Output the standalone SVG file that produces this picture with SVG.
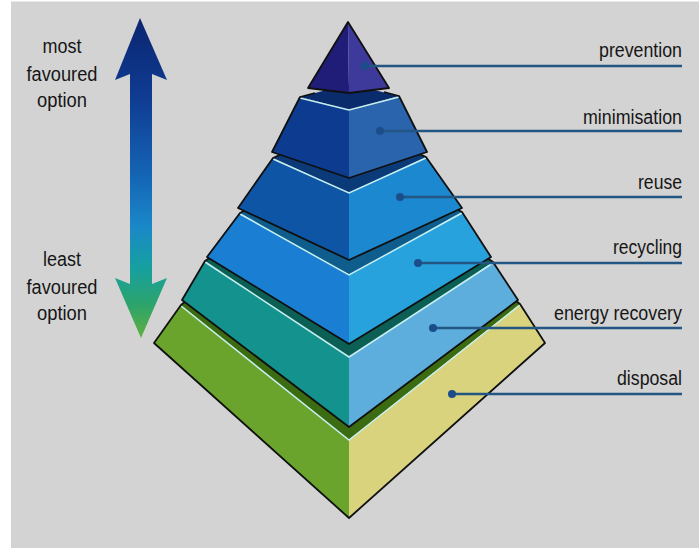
<svg xmlns="http://www.w3.org/2000/svg" width="699" height="548" viewBox="0 0 699 548">
<defs>
<linearGradient id="arrowGrad" x1="0" y1="18" x2="0" y2="338" gradientUnits="userSpaceOnUse">
<stop offset="0" stop-color="#0b2570"/>
<stop offset="0.25" stop-color="#0f3c92"/>
<stop offset="0.5" stop-color="#1566b6"/>
<stop offset="0.65" stop-color="#1a88c8"/>
<stop offset="0.78" stop-color="#16a0a0"/>
<stop offset="0.9" stop-color="#2ea46a"/>
<stop offset="1" stop-color="#62b040"/>
</linearGradient>
<style>
.lbl{font-family:"Liberation Sans",Arial,sans-serif;font-size:20px;fill:#161616;}
.lt{text-anchor:middle;}
.rt{text-anchor:end;}
.edge{fill:none;stroke:#101010;stroke-width:1.8;stroke-linejoin:round;}
.hl{fill:none;stroke:#c6eef0;stroke-width:1.5;}
.con{stroke:#235683;stroke-width:2.5;fill:none;}
.dot{fill:#1b4d8a;}
</style>
</defs>
<rect x="0" y="0" width="699" height="548" fill="#d3d3d3"/>
<rect x="0" y="0" width="11" height="548" fill="#ffffff"/>
<rect x="0" y="0" width="699" height="1.5" fill="#ffffff"/>

<g id="scale-arrow">
<polygon points="140,18 167,80 152,74 152,284 167,278 141,338 115,278 130,284 130,74 115,80" fill="url(#arrowGrad)"/>
<text class="lbl lt" x="62" y="53" textLength="39" lengthAdjust="spacingAndGlyphs">most</text>
<text class="lbl lt" x="62" y="81" textLength="71" lengthAdjust="spacingAndGlyphs">favoured</text>
<text class="lbl lt" x="62" y="107" textLength="50" lengthAdjust="spacingAndGlyphs">option</text>
<text class="lbl lt" x="62" y="266" textLength="38" lengthAdjust="spacingAndGlyphs">least</text>
<text class="lbl lt" x="62" y="294" textLength="71" lengthAdjust="spacingAndGlyphs">favoured</text>
<text class="lbl lt" x="62" y="320" textLength="50" lengthAdjust="spacingAndGlyphs">option</text>
</g>

<g id="disposal">
<polygon points="181,305 349,170 520,304 349,440" fill="#3c6c12"/>
<polygon points="181,305 349,440 349,518 154,343" fill="#6aa42c"/>
<polygon points="349,440 520,304 545,343 349,518" fill="#d8d37c"/>
<polyline class="hl" points="181,306 349,440 520,305"/>
<path class="edge" d="M205,286 L181,305 L154,343 L349,518 L545,343 L520,304 L496,285"/>
<text class="lbl rt" x="682" y="385" textLength="65" lengthAdjust="spacingAndGlyphs">disposal</text>
</g>

<g id="energy-recovery">
<polygon points="205,261 349,165 493,262 349,357" fill="#0b5f55"/>
<polygon points="205,261 349,357 349,427 182,300" fill="#14928e"/>
<polygon points="349,357 493,262 518,300 349,427" fill="#5daedc"/>
<polyline class="hl" points="205,262 349,357 493,263"/>
<path class="edge" d="M230,244 L205,261 L182,300 L349,427 L518,300 L493,262 L468,245"/>
<text class="lbl rt" x="682" y="320" textLength="128" lengthAdjust="spacingAndGlyphs">energy recovery</text>
</g>

<g id="recycling">
<polygon points="240,213 349,151 462,212 349,275" fill="#0e5d8d"/>
<polygon points="240,213 349,275 349,344 207,257" fill="#1a7fd2"/>
<polygon points="349,275 462,212 491,257 349,344" fill="#27a2dd"/>
<polyline class="hl" points="240,214 349,275 462,213"/>
<path class="edge" d="M262,201 L240,213 L207,257 L349,344 L491,257 L462,212 L440,200"/>
<text class="lbl rt" x="682" y="254" textLength="69" lengthAdjust="spacingAndGlyphs">recycling</text>
</g>

<g id="reuse">
<polygon points="273,158 349,123 426,157 349,193" fill="#0a3a78"/>
<polygon points="273,158 349,193 349,260 238,208" fill="#0e55a5"/>
<polygon points="349,193 426,157 462,208 349,260" fill="#1c88cf"/>
<polyline class="hl" points="273,159 349,193 426,158"/>
<path class="edge" d="M290,150 L273,158 L238,208 L349,260 L462,208 L426,157 L409,149"/>
<text class="lbl rt" x="682" y="189" textLength="44" lengthAdjust="spacingAndGlyphs">reuse</text>
</g>

<g id="minimisation">
<polygon points="300,97 349,84 399,96 349,110" fill="#0b2c6c"/>
<polygon points="300,97 349,110 349,178 272,152" fill="#0c3b8f"/>
<polygon points="349,110 399,96 427,152 349,178" fill="#2a64ad"/>
<polyline class="hl" points="300,98 349,110 399,97"/>
<path class="edge" d="M315,93 L300,97 L272,152 L349,178 L427,152 L399,96 L384,92"/>
<text class="lbl rt" x="682" y="124" textLength="99" lengthAdjust="spacingAndGlyphs">minimisation</text>
</g>

<g id="prevention">
<polygon points="348,22 308,88 349,93" fill="#201d78"/>
<polygon points="348,22 349,93 389,88" fill="#3d3a9c"/>
<path class="edge" d="M348,22 L308,88 L349,93 L389,88 Z"/>
<text class="lbl rt" x="682" y="57" textLength="83" lengthAdjust="spacingAndGlyphs">prevention</text>
</g>

<g id="connectors">
<line class="con" x1="365" y1="66" x2="682" y2="66"/>
<circle class="dot" cx="365" cy="66" r="4"/>
<line class="con" x1="380" y1="131" x2="682" y2="131"/>
<circle class="dot" cx="380" cy="131" r="4"/>
<line class="con" x1="400" y1="197" x2="682" y2="197"/>
<circle class="dot" cx="400" cy="197" r="4"/>
<line class="con" x1="418" y1="263" x2="682" y2="263"/>
<circle class="dot" cx="418" cy="263" r="4"/>
<line class="con" x1="433" y1="328" x2="682" y2="328"/>
<circle class="dot" cx="433" cy="328" r="4"/>
<line class="con" x1="452" y1="394" x2="682" y2="394"/>
<circle class="dot" cx="452" cy="394" r="4"/>
</g>
</svg>
